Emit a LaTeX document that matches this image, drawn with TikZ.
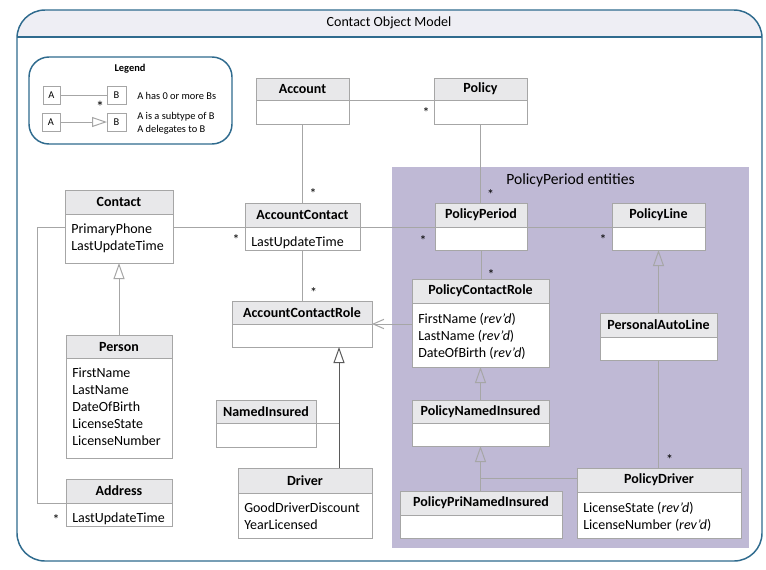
\documentclass[tikz,border=0pt]{standalone}
\usepackage{fontspec}
\setmainfont{Carlito}
\usetikzlibrary{arrows.meta,calc}
\newdimen\px \px=0.75pt
\definecolor{frameblue}{HTML}{2F6B8E}
\definecolor{hdrfill}{HTML}{EEEEF4}
\definecolor{clsfill}{HTML}{E8E8EA}
\definecolor{clsline}{HTML}{A6A6A6}
\definecolor{ppfill}{HTML}{BFB9D5}
\definecolor{darkline}{HTML}{5A5A5A}
\newcommand\umlcls[7]{%
  \node[hdr, minimum width={(#4-#2)*\px}, minimum height={(#5-#3)*\px}] (#1) at (#2,#3) {#7};
  \node[bdy, minimum width={(#4-#2)*\px}, minimum height={(#6-#5)*\px}] (#1b) at (#1.south west) {};
}
\newcommand\umlattr[2]{%
  \node[attr] (#1t) at ([xshift=6\px, yshift=-9.75\px]#1b.north west) {#2};
}
\begin{document}
\begin{tikzpicture}[x=0.75pt,y=-0.75pt,
  every node/.style={font=\fontsize{10.5}{12.75}\selectfont},
  hdr/.style={draw=clsline, fill=clsfill, line width=0.75pt, inner sep=0pt, outer sep=0pt,
              font=\fontsize{10.5}{12.75}\selectfont\bfseries, anchor=north west},
  bdy/.style={draw=clsline, fill=white, line width=0.75pt, inner sep=0pt, outer sep=0pt, anchor=north west},
  attr/.style={inner sep=0pt, anchor=north west, align=left},
  conn/.style={draw=clsline, line width=0.75pt},
  inh/.style={conn, -{Triangle[open, length=12pt, width=8.25pt]}},
  dlg/.style={conn, -{Straight Barb[length=8pt, width=7pt]}},
  mult/.style={inner sep=0pt, font=\fontsize{10.5}{12}\selectfont, yshift=-2.5\px},
  lbox/.style={draw=clsline, line width=0.75pt, inner sep=0pt, outer sep=0pt, minimum height={18*\px},
               font=\fontsize{7.8}{9.75}\selectfont},
  legtxt/.style={inner sep=0pt, anchor=west, align=left, font=\fontsize{7.8}{9.75}\selectfont},
]
\useasboundingbox (0,0) rectangle (766,569);
\fill[white] (0,0) rectangle (766,569);

% outer frame
\begin{scope}
  \clip (17,10) rectangle (762,37);
  \fill[hdrfill, rounded corners=21pt] (17,10) rectangle (762,561);
\end{scope}
\draw[frameblue, line width=1.1pt, rounded corners=21pt] (17,10) rectangle (762,561);
\draw[frameblue, line width=1.1pt] (17,37) -- (762,37);
\node (title) at (389,23) {Contact Object Model};

% PolicyPeriod region
\fill[ppfill] (392,167) rectangle (749,548);
\node[font=\fontsize{11.7}{14}\selectfont] (pptitle) at (570.5,180) {PolicyPeriod entities};

% legend
\node[draw=frameblue, line width=1.1pt, rounded corners=15pt, minimum width={203*\px},
      minimum height={87*\px}, anchor=north west, inner sep=0pt, outer sep=0pt] (legend) at (29,57) {};
\node[font=\fontsize{7.8}{9.75}\selectfont\bfseries] (legtitle) at (130,69) {Legend};
\node[lbox, minimum width={17*\px}] (la1) at (51.5,95) {A};
\node[lbox, minimum width={19*\px}] (lb1) at (116.5,95) {B};
\node[lbox, minimum width={18*\px}] (la2) at (51,122) {A};
\node[lbox, minimum width={19*\px}] (lb2) at (116.5,122) {B};
\node[legtxt] (lt1) at (137,95.5) {A has 0 or more Bs};
\node[legtxt] (lt2) at (137,123) {A is a subtype of B\\A delegates to B};
\draw[conn] (la1) -- (lb1) node[mult, pos=1, font=\fontsize{12}{12}\selectfont, xshift=-7\px, yshift=-9\px] {*};
\draw[conn, -{Triangle[open, length=11.25pt, width=7.5pt]}] (la2) -- (lb2);

% classes
\umlcls{acc}{256}{78}{349}{100}{124}{Account}
\umlcls{pol}{434}{78}{527}{100}{124}{Policy}
\umlcls{con}{65}{190}{173}{214}{263}{Contact}
\umlcls{ac}{245}{203}{360}{227}{250}{AccountContact}
\umlcls{pp}{435}{203}{527}{227}{250}{PolicyPeriod}
\umlcls{pl}{612}{203}{705}{227}{250}{PolicyLine}
\umlcls{per}{66}{335}{172}{358}{458}{Person}
\umlcls{acr}{232}{301}{372}{324}{347}{AccountContactRole}
\umlcls{pcr}{412}{279}{549}{303}{367}{PolicyContactRole}
\umlcls{pal}{600}{313}{717}{337}{360}{PersonalAutoLine}
\umlcls{ni}{216}{400}{316}{423}{447}{NamedInsured}
\umlcls{pni}{412}{400}{549}{423}{446}{PolicyNamedInsured}
\umlcls{adr}{66}{479}{172}{503}{526}{Address}
\umlcls{drv}{238}{468}{372}{493}{538}{Driver}
\umlcls{pd}{577}{468}{741}{492}{538}{PolicyDriver}
\umlcls{ppni}{400}{491}{562}{515}{538}{PolicyPriNamedInsured}

\umlattr{con}{PrimaryPhone\\LastUpdateTime}
\umlattr{ac}{LastUpdateTime}
\umlattr{per}{FirstName\\LastName\\DateOfBirth\\LicenseState\\LicenseNumber}
\umlattr{pcr}{FirstName (\textit{rev’d})\\LastName (\textit{rev’d})\\DateOfBirth (\textit{rev’d})}
\umlattr{adr}{LastUpdateTime}
\umlattr{drv}{GoodDriverDiscount\\YearLicensed}
\umlattr{pd}{LicenseState (\textit{rev’d})\\LicenseNumber (\textit{rev’d})}

% connectors
\draw[conn] (acc.south east) -- (pol.south west)
  node[mult, pos=1, xshift=-8\px, yshift=-10\px] {*};
\draw[conn] (accb.south) -- (accb.south |- ac.north)
  node[mult, pos=1, xshift=10.5\px, yshift=12\px] {*};
\draw[conn] (polb.south) -- (polb.south |- pp.north)
  node[mult, pos=1, xshift=10\px, yshift=11\px] {*};
\draw[conn] (conb.east |- ac.south) -- (ac.south west)
  node[mult, pos=1, xshift=-9\px, yshift=-10\px] {*};
\draw[conn] (ac.south east) -- (pp.south west)
  node[mult, pos=1, xshift=-12\px, yshift=-11\px] {*};
\draw[conn] (pp.south east) -- (pl.south west)
  node[mult, pos=1, xshift=-9\px, yshift=-10\px] {*};
\draw[conn] (acb.south) -- (acb.south |- acr.north)
  node[mult, pos=1, xshift=11\px, yshift=11\px] {*};
\draw[conn] (ppb.south) -- (ppb.south |- pcr.north)
  node[mult, pos=1, xshift=10\px, yshift=7\px] {*};
\draw[conn] (conb.west |- ac.south) -- ++(-28,0) |- (adr.south west)
  node[mult, pos=1, xshift=-10\px, yshift=-14\px] {*};
\draw[inh] (per.north) -- (conb.south);
\draw[dlg] (pcrb.west |- acr.south) -- (acr.south east);
\coordinate (j1) at (339,423);
\draw[inh, draw=darkline] (drv.north -| j1) -- (acrb.south -| j1);
\draw[conn] (ni.south east) -- (j1);
\draw[inh] (pal.north) -- (plb.south);
\draw[conn] (palb.south) -- (palb.south |- pd.north)
  node[mult, pos=1, xshift=11\px, yshift=11\px] {*};
\draw[inh] (pni.north) -- (pcrb.south);
\coordinate (j2) at (480.5,478);
\draw[inh] (ppni.north -| j2) -- (pnib.south -| j2);
\draw[conn] (pd.west |- j2) -- (j2);
\end{tikzpicture}
\end{document}
